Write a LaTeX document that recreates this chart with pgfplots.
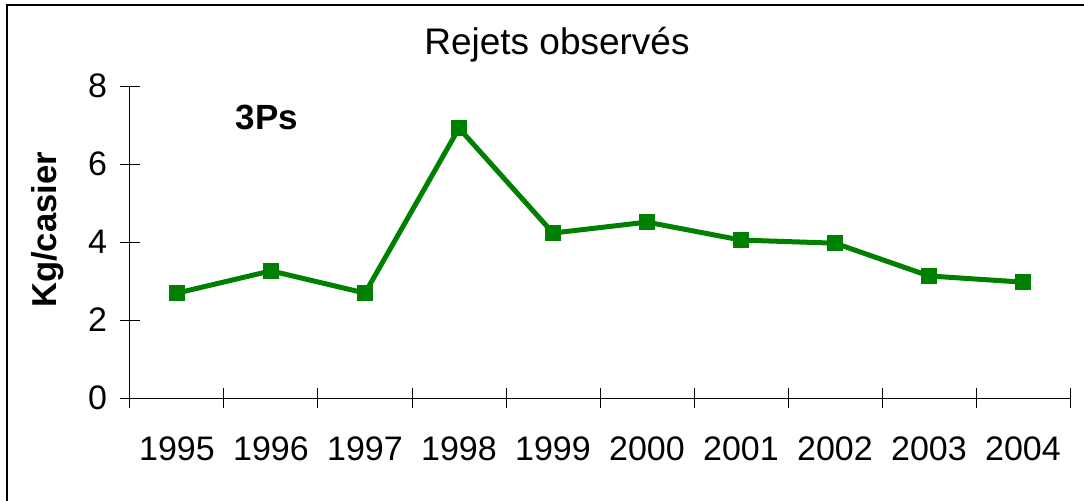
\documentclass[border=0pt]{standalone}
\usepackage{fontspec}
\setmainfont{Liberation Sans}
\usepackage{pgfplots}
\pgfplotsset{compat=1.18}
\definecolor{serie}{RGB}{0,128,0}

\begin{document}
\begin{tikzpicture}
\path[use as bounding box] (-65pt,-51pt) rectangle (477pt,199pt);
\begin{axis}[
    at={(0,0)}, anchor=south west,
    scale only axis,
    width=470pt, height=156pt,
    xmin=-0.5, xmax=9.5,
    ymin=0, ymax=8,
    axis x line*=bottom,
    axis y line*=left,
    xtick={0,...,9},
    xticklabels={1995,1996,1997,1998,1999,2000,2001,2002,2003,2004},
    minor xtick={-0.5,0.5,...,9.5},
    major x tick style={draw=none},
    ytick={0,2,4,6,8},
    tick align=center,
    major tick length=10pt,
    minor tick length=10pt,
    tick style={black, line width=0.5pt},
    axis line style={black, line width=0.5pt},
    /pgf/number format/assume math mode=true,
    ticklabel style={font=\fontsize{17}{20}\selectfont},
    xticklabel style={yshift=-11pt},
    yticklabel style={xshift=-3pt},
    clip=false,
]
\addplot[serie, line width=2.5pt, mark=square*, mark size=3.9pt,
    mark options={solid, fill=serie, line width=0pt}] coordinates {
    (0,2.69) (1,3.26) (2,2.69) (3,6.92) (4,4.23)
    (5,4.51) (6,4.05) (7,3.97) (8,3.13) (9,2.97)
};
\end{axis}
\draw[line width=1pt] (-61.25pt,-60pt) -- (-61.25pt,196.75pt) -- (490pt,196.75pt);
\node[font=\fontsize{18.5}{22}\selectfont] at (213.5pt,176.5pt) {Rejets observés};
\node[font=\fontsize{17.5}{21}\selectfont\bfseries] at (68.5pt,140.5pt) {3Ps};
\node[font=\fontsize{17.3}{21}\selectfont\bfseries, rotate=90] at (-41pt,84pt) {Kg/casier};
\end{tikzpicture}
\end{document}
